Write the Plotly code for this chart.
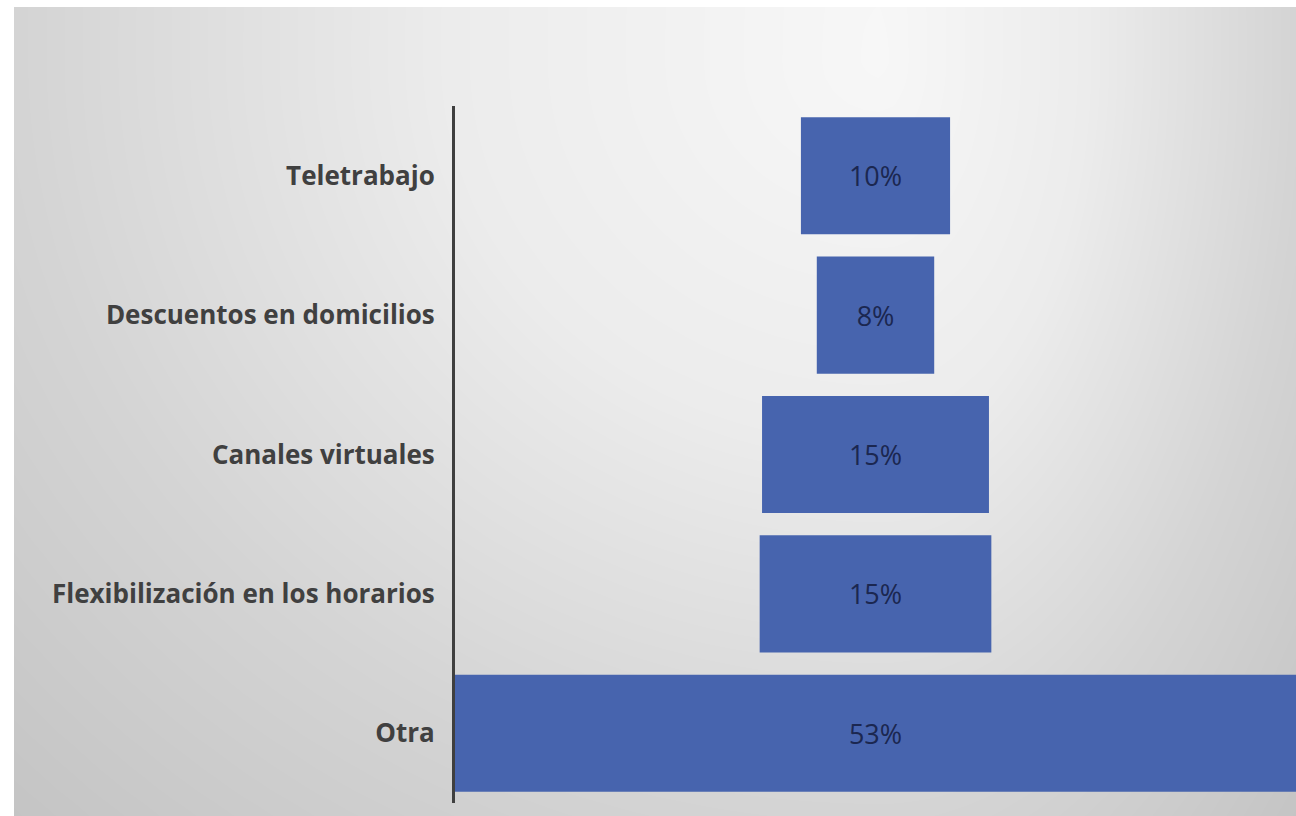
import numpy as np
import plotly.graph_objects as go

# ---- data ----
categories = ["Teletrabajo", "Descuentos en domicilios", "Canales virtuales",
              "Flexibilización en los horarios", "Otra"]
values = [0.094, 0.074, 0.143, 0.146, 0.53]
value_labels = ["10%", "8%", "15%", "15%", "53%"]

W, H = 1296, 816
left_white, top_white = 14, 7

# ---- background gradient (styling only) ----
gx = np.linspace(left_white, W, 90)
gy = np.linspace(top_white, H, 60)
cx, cy = 880.0, 60.0
XX, YY = np.meshgrid(gx, gy)
U = np.where(XX < cx, (XX - cx) / (cx - left_white), (XX - cx) / (W - cx))
V = (YY - cy) / (H - cy)
V = np.where(V < 0, V * 0.3, V)
T = np.sqrt(U ** 2 + V ** 2)

fig = go.Figure()
fig.add_trace(go.Heatmap(
    x=gx, y=gy, z=T, zmin=0, zmax=1.42, zsmooth="best",
    colorscale=[[0, "#f7f7f7"], [0.35, "#ececec"], [0.7, "#d4d4d4"], [1, "#c4c4c4"]],
    showscale=False, hoverinfo="skip", xaxis="x", yaxis="y",
))

fig.add_trace(go.Funnel(
    y=categories, x=values, text=value_labels, textinfo="text",
    textposition="inside", insidetextanchor="middle", constraintext="none",
    textfont=dict(family="Open Sans", size=27, color="#1b2750"),
    marker=dict(color="#4764ae", line=dict(width=0)),
    connector=dict(visible=False),
    xaxis="x2", yaxis="y2", hoverinfo="skip",
))

fig.update_layout(
    width=W, height=H,
    margin=dict(l=0, r=0, t=0, b=0),
    paper_bgcolor="white",
    plot_bgcolor="rgba(0,0,0,0)",
    showlegend=False,
    funnelgap=0.16,
    xaxis=dict(domain=[left_white / W, 1], range=[left_white, W], visible=False, fixedrange=True),
    yaxis=dict(domain=[0, 1 - top_white / H], range=[H, top_white], visible=False, fixedrange=True),
    xaxis2=dict(domain=[455 / W, 1], range=[-0.265, 0.265], visible=False,
                anchor="y2", fixedrange=True),
    yaxis2=dict(domain=[13 / H, 1 - 106 / H], anchor="x2", type="category",
                autorange="reversed",
                showline=True, linewidth=3, linecolor="#3f3f3f",
                ticks="", showgrid=False, zeroline=False, ticklabelstandoff=12,
                tickfont=dict(family="Open Sans", size=26, color="#404040", weight="bold"),
                fixedrange=True),
)

fig.write_html("out.html", config={"displayModeBar": False},
               post_script="document.body.style.margin='0';document.body.style.overflow='hidden';")
